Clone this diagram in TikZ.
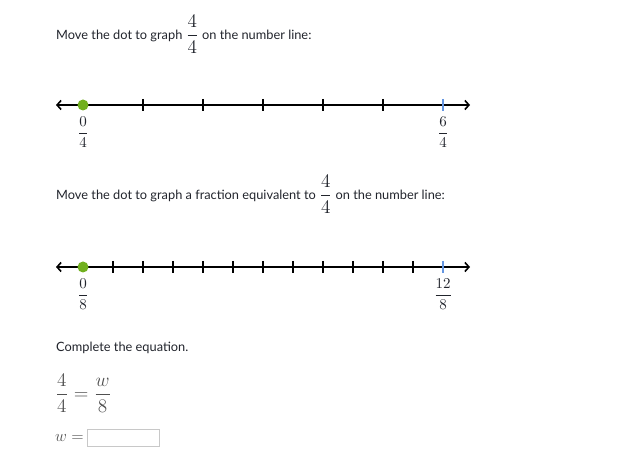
\documentclass[tikz,border=0pt]{standalone}
\usepackage{amsmath}
\usepackage{graphicx}
\usepackage{fontspec}
\setmainfont{Lato}
\usetikzlibrary{arrows.meta}
\definecolor{txt}{RGB}{33,36,44}
\definecolor{eqgray}{RGB}{80,80,80}
\definecolor{dotgreen}{RGB}{113,176,30}
\definecolor{tickblue}{RGB}{100,150,225}
\definecolor{boxgray}{RGB}{200,200,200}
\newcommand\mymath[2]{\scalebox{#1}{$#2$}}
\tikzset{
  qtext/.style={anchor=base west, inner sep=0pt, text=txt, font=\fontsize{12.8}{15}\selectfont},
  numline/.style={line width=1.6pt, {Straight Barb[length=4pt,width=9pt]}-{Straight Barb[length=4pt,width=9pt]}},
  tickmark/.style={line width=1.4pt},
  bluetick/.style={line width=2.2pt, tickblue},
  lab/.style={anchor=north, inner sep=0pt, text=txt},
  gdot/.style={circle, fill=dotgreen, minimum size=11pt, inner sep=0pt},
  ansbox/.style={draw=boxgray, line width=0.8pt, minimum width=72pt, minimum height=17pt, inner sep=0pt, anchor=west}
}
\begin{document}
\begin{tikzpicture}[x=1pt,y=-1pt]
\useasboundingbox (0,0) rectangle (627,470);
% text 1
\node[qtext] (t1) at (56,40) {Move the dot to graph \mymath{1.6}{\dfrac{4}{4}} on the number line:};
% number line 1
\coordinate (l1a) at (56,105);
\coordinate (l1b) at (470,105);
\draw[numline] (l1a) -- (l1b);
\foreach \i in {1,...,5} {
  \draw[tickmark] (83+60*\i,99) -- (83+60*\i,111);
}
\draw[bluetick] (443,99) -- (443,111);
\node[gdot] (d1) at (83,105) {};
\node[lab] (f1a) at (83,117) {\mymath{1.5}{\dfrac{0}{4}}};
\node[lab] (f1b) at (443,117) {\mymath{1.5}{\dfrac{6}{4}}};
% text 2
\node[qtext] (t2) at (56,200) {Move the dot to graph a fraction equivalent to \mymath{1.6}{\dfrac{4}{4}} on the number line:};
% number line 2
\coordinate (l2a) at (56,267);
\coordinate (l2b) at (470,267);
\draw[numline] (l2a) -- (l2b);
\foreach \i in {1,...,11} {
  \draw[tickmark] (83+30*\i,261) -- (83+30*\i,273);
}
\draw[bluetick] (443,261) -- (443,273);
\node[gdot] (d2) at (83,267) {};
\node[lab] (f2a) at (83,279) {\mymath{1.5}{\dfrac{0}{8}}};
\node[lab] (f2b) at (443,279) {\mymath{1.5}{\dfrac{12}{8}}};
% equation
\node[qtext] (t3) at (56,352) {Complete the equation.};
\node[qtext, anchor=west] (eq) at (55,393) {\color{eqgray}\mymath{1.6}{\dfrac{4}{4}=\dfrac{w}{8}}};
\node[qtext, anchor=base west] (weq) at (55,442) {\color{eqgray}\mymath{1.35}{w=}};
\node[ansbox] (box) at (87,437.5) {};
\end{tikzpicture}
\end{document}
